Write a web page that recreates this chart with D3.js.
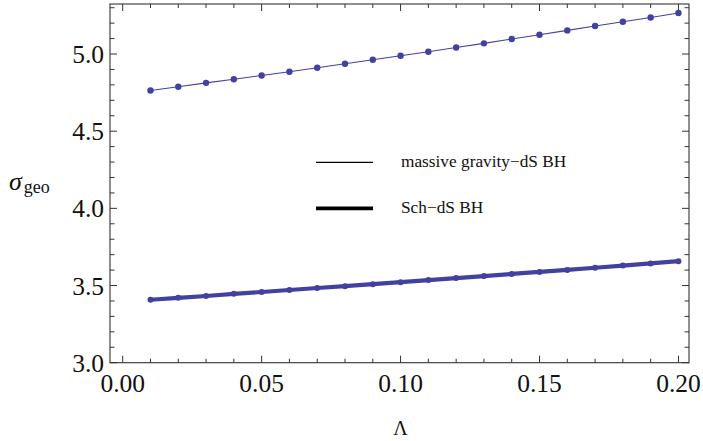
<!DOCTYPE html>
<html>
<head>
<meta charset="utf-8">
<script src="https://cdn.jsdelivr.net/npm/d3@7"></script>
</head>
<body style="margin:0;padding:0;background:#fff;">
<svg id="chart" width="703" height="441" style="display:block;"></svg>
<script>
// Cosmological constant values
const lambdaValues = [0.01, 0.02, 0.03, 0.04, 0.05, 0.06, 0.07, 0.08, 0.09, 0.10,
                      0.11, 0.12, 0.13, 0.14, 0.15, 0.16, 0.17, 0.18, 0.19, 0.20];
// Geometric cross section, massive gravity–dS black hole
const sigmaMassive = [4.764, 4.788, 4.813, 4.836, 4.861, 4.885, 4.911, 4.937, 4.963, 4.989,
                      5.015, 5.042, 5.069, 5.097, 5.125, 5.153, 5.181, 5.209, 5.237, 5.266];
// Geometric cross section, Schwarzschild–dS black hole
const sigmaSch = [3.408, 3.420, 3.432, 3.446, 3.458, 3.471, 3.484, 3.496, 3.509, 3.522,
                  3.535, 3.548, 3.561, 3.575, 3.588, 3.601, 3.615, 3.629, 3.643, 3.658];

const xTickLabels = ["0.00", "0.05", "0.10", "0.15", "0.20"];
const yTickLabels = ["3.0", "3.5", "4.0", "4.5", "5.0"];
const legendLabels = ["massive gravity\u2212dS BH", "Sch\u2212dS BH"];

const SERIF = '"Liberation Serif", "Times New Roman", Times, serif';

const svg = d3.select("#chart");
const frame = { left: 110, right: 689, top: 4, bottom: 362.7 };

const x = d3.scaleLinear().domain([-0.00457, 0.2038]).range([frame.left, frame.right]);
const y = d3.scaleLinear().domain([3.0, 5.324]).range([frame.bottom, frame.top]);

const markColor = "#4141a1";
const axisColor = "#333";
const textColor = "#111";

function addText(parent, size) {
  return parent.append("text")
    .style("font-family", SERIF)
    .style("font-size", size + "px")
    .style("fill", textColor);
}

// Frame
svg.append("rect")
  .attr("x", frame.left).attr("y", frame.top)
  .attr("width", frame.right - frame.left).attr("height", frame.bottom - frame.top)
  .attr("fill", "none").attr("stroke", axisColor).attr("stroke-width", 1.1);

// Ticks on all four sides, pointing inward
const xMinor = d3.range(0, 21).map(i => i * 0.01);
const yMinor = d3.range(0, 24).map(i => 3.0 + i * 0.1).filter(v => v <= 5.32);
const isMajorX = v => Math.abs(Math.round(v / 0.05) * 0.05 - v) < 1e-9;
const isMajorY = v => Math.abs(Math.round(v / 0.5) * 0.5 - v) < 1e-9;

const ticks = svg.append("g").attr("stroke", axisColor).attr("stroke-width", 1);
xMinor.forEach(v => {
  const len = isMajorX(v) ? 7 : 4;
  const px = x(v);
  ticks.append("line").attr("x1", px).attr("x2", px).attr("y1", frame.bottom).attr("y2", frame.bottom - len);
  ticks.append("line").attr("x1", px).attr("x2", px).attr("y1", frame.top).attr("y2", frame.top + len);
});
yMinor.forEach(v => {
  const len = isMajorY(v) ? 7 : 4.5;
  const py = y(v);
  ticks.append("line").attr("x1", frame.left).attr("x2", frame.left + len).attr("y1", py).attr("y2", py);
  ticks.append("line").attr("x1", frame.right).attr("x2", frame.right - len).attr("y1", py).attr("y2", py);
});

// Tick labels
const xLab = svg.append("g");
xTickLabels.forEach(d => {
  addText(xLab, 25.5).attr("x", x(+d)).attr("y", 392).attr("text-anchor", "middle").text(d);
});
const yLab = svg.append("g");
yTickLabels.forEach(d => {
  addText(yLab, 25.5).attr("x", 104).attr("y", y(+d) + 9).attr("text-anchor", "end").text(d);
});

// Axis titles
addText(svg, 20).attr("x", 400.5).attr("y", 435).attr("text-anchor", "middle").text("\u039B");
const yTitle = addText(svg, 26).attr("x", 9).attr("y", 190);
yTitle.append("tspan").style("font-style", "italic").text("\u03C3");
yTitle.append("tspan").style("font-size", "18px").attr("dy", 3).attr("dx", 2).text("geo");

// Series
const line = d3.line().x((d, i) => x(lambdaValues[i])).y(d => y(d));

svg.append("path").datum(sigmaSch)
  .attr("d", line).attr("fill", "none")
  .attr("stroke", markColor).attr("stroke-width", 4.2).attr("stroke-linejoin", "round");
svg.append("g").selectAll("circle").data(sigmaSch).join("circle")
  .attr("cx", (d, i) => x(lambdaValues[i])).attr("cy", d => y(d)).attr("r", 3)
  .attr("fill", markColor);

svg.append("path").datum(sigmaMassive)
  .attr("d", line).attr("fill", "none")
  .attr("stroke", markColor).attr("stroke-width", 1.1);
svg.append("g").selectAll("circle").data(sigmaMassive).join("circle")
  .attr("cx", (d, i) => x(lambdaValues[i])).attr("cy", d => y(d)).attr("r", 3.2)
  .attr("fill", markColor);

// Legend
const legendY = [162.3, 208.3];
const legendWidth = [1.3, 3.8];
const legend = svg.append("g");
legendLabels.forEach((label, i) => {
  legend.append("line")
    .attr("x1", 316).attr("x2", 373).attr("y1", legendY[i]).attr("y2", legendY[i])
    .attr("stroke", "#000").attr("stroke-width", legendWidth[i]);
  addText(legend, 17.3).attr("x", 401).attr("y", legendY[i] + 5).text(label);
});
</script>
</body>
</html>
